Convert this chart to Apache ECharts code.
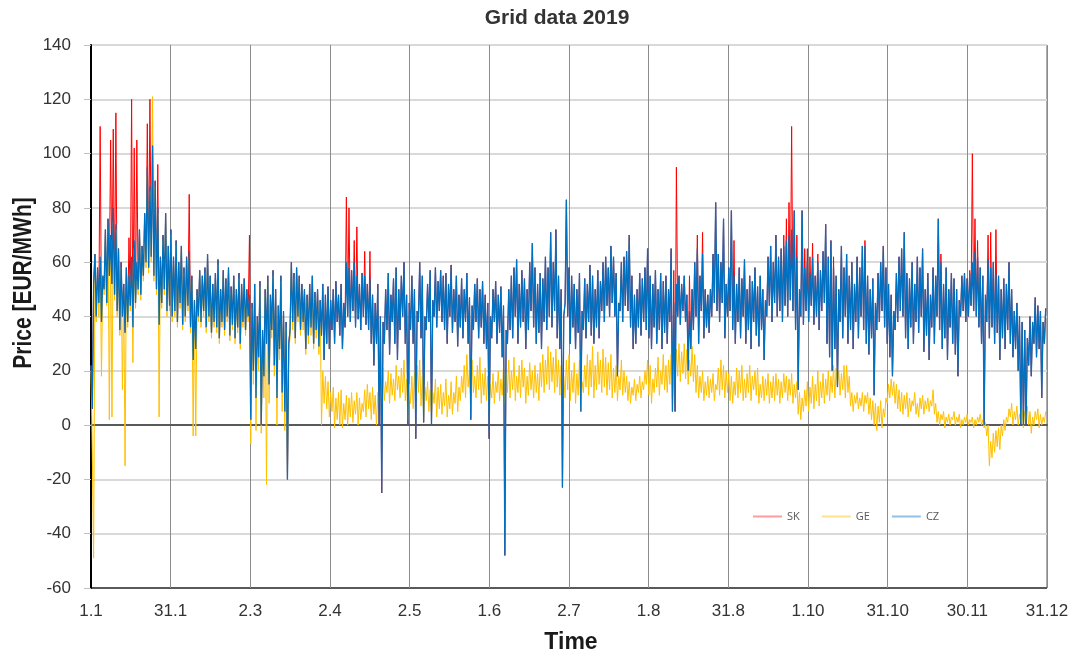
<!DOCTYPE html>
<html>
<head>
<meta charset="utf-8">
<script src="https://cdn.jsdelivr.net/npm/echarts@6/dist/echarts.min.js"></script>
<style>
  html, body { margin: 0; padding: 0; background: #ffffff; }
  #chart { width: 1074px; height: 656px; }
</style>
</head>
<body>
<div id="chart"></div>
<script>
// Hourly spot prices, sampled twice a day (00:00 and 12:00), EUR/MWh
const HOURS_PER_POINT = 12;

const xTickLabels = ['1.1', '31.1', '2.3', '2.4', '2.5', '1.6', '2.7', '1.8', '31.8', '1.10', '31.10', '30.11', '31.12'];
const seriesNames = ['SK', 'GE', 'CZ'];

// Slovakia
const sk = [
  22,6, 52,63, 40,58, 45,110, 38,55, 50,72, 45,76, 55,105, 52,109, 48,115,
  42,65, 35,60, 40,52, 34,58, 38,69, 44,120, 36,102, 45,105, 50,72, 48,66,
  55,78, 60,111, 58,120, 62,103, 55,90, 50,96, 37,62, 45,70, 50,78, 42,66,
  44,72, 40,62, 42,68, 38,60, 45,66, 37,58, 40,62, 44,85, 36,55, 24,46,
  28,50, 40,57, 38,55, 42,58, 36,63, 40,55, 34,52, 38,56, 36,61, 32,50,
  38,57, 35,54, 40,58, 33,51, 37,55, 32,50, 36,56, 30,52, 38,54, 35,50,
  40,70, 2,45, 20,52, 10,40, 25,53, 0,35, 18,50, 30,55, 15,48, 35,57,
  22,50, 10,44, 28,55, 12,42, 5,38, -20,30, 35,60, 38,56, 32,58, 40,55,
  35,52, 38,50, 28,48, 33,52, 36,55, 30,49, 35,50, 29,46, 33,52, 24,48,
  30,51, 28,46, 35,50, 30,53, 38,48, 33,52, 28,45, 36,84, 40,80, 38,57,
  42,68, 36,73, 39,52, 35,56, 40,64, 37,52, 35,64, 30,48, 22,45, 30,52,
  0,40, -25,38, 30,50, 35,56, 26,48, 38,54, 30,58, 24,50, 35,55, 40,60,
  30,48, 0,45, 35,55, 30,50, -5,42, 38,60, 32,55, 1,40, 35,52, 38,57,
  0,46, 40,58, 36,53, 42,57, 38,55, 35,56, 30,52, 40,59, 34,50, 38,55,
  29,48, 36,54, 32,50, 38,56, 30,47, 2,44, 35,52, 38,54, 32,50, 36,53,
  30,48, 28,45, -5,40, 32,50, 38,53, 30,48, 34,51, 25,44, -48,35, 30,50,
  35,55, 32,58, 40,61, 30,52, 36,57, 38,54, 28,50, 35,60, 42,67, 36,58,
  30,52, 34,56, 28,54, 38,62, 35,58, 40,71, 36,60, 42,72, 32,55, 28,50,
  -23,40, 45,83, 40,58, 30,55, 36,52, 28,50, 34,56, 5,42, 35,54, 32,52,
  38,59, 33,55, 30,50, 36,57, 32,53, 42,60, 38,62, 44,58, 40,66, 45,62,
  40,56, 18,45, 42,60, 38,62, 44,64, 42,70, 36,55, 28,48, 30,50, 36,56,
  33,54, 38,58, 35,65, 32,55, 28,52, 36,57, 30,50, 35,56, 28,53, 34,55,
  30,50, 38,65, 5,57, 5,95, 40,55, 37,52, 42,55, 38,48, 20,55, 28,50,
  35,60, 40,70, 30,55, 42,71, 32,50, 36,48, 34,50, 40,63, 45,82, 42,63,
  38,60, 45,76, 32,52, 40,58, 42,79, 35,68, 30,52, 38,58, 32,54, 40,61,
  30,50, 35,55, 28,53, 38,58, 33,51, 29,55, 35,50, 24,46, 40,62, 44,66,
  38,60, 45,70, 40,62, 42,65, 38,70, 44,76, 40,82, 46,110, 42,79, 35,70,
  13,50, 40,79, 37,65, 42,65, 38,62, 44,67, 37,55, 40,63, 35,57, 42,64,
  45,74, 30,62, 25,68, 20,62, 28,55, 14,50, 38,66, 32,58, 40,63, 30,55,
  35,60, 28,52, 38,62, 32,58, 40,66, 35,68, 30,55, 26,50, 32,54, 11,45,
  35,56, 38,60, 42,66, 36,58, 30,52, 25,48, 18,42, 35,56, 38,62, 42,65,
  40,71, 32,56, 28,54, 36,60, 30,52, 38,62, 34,58, 40,65, 27,50, 33,56,
  24,48, 36,58, 30,55, 40,76, 35,63, 28,52, 32,58, 24,50, 36,56, 30,54,
  26,50, 18,46, 40,55, 42,56, 38,54, 40,57, 44,100, 42,76, 40,68, 36,58,
  30,55, 0,48, 38,70, 32,71, 36,60, 30,72, 34,55, 24,50, 32,54, 28,52,
  35,60, 30,50, 25,42, 28,45, 20,40, 0,38, 0,35, 0,32, 22,40, 18,38,
  30,47, 25,44, 28,42, 10,38, 30,43
];

// Germany
const ge = [
  20,-10, -49,55, 38,56, 40,60, 18,55, 48,70, 44,72, 2,68, 3,75, 46,72,
  40,62, 33,58, 13,50, -15,56, 36,52, 42,60, 23,65, 43,58, 48,70, 46,64,
  53,76, 58,92, 56,86, 60,121, 53,88, 48,78, 3,60, 43,68, 48,76, 40,64,
  42,70, 38,60, 40,66, 36,58, 43,64, 35,56, 38,60, 42,62, 34,53, -4,44,
  -4,48, 38,55, 36,53, 40,56, 34,61, 38,53, 32,50, 36,54, 34,59, 30,48,
  36,55, 33,52, 38,56, 31,49, 35,53, 30,48, 34,54, 28,50, 36,52, 33,48,
  38,46, -7,43, 15,50, -2,38, 20,51, -3,33, 10,48, -22,53, 8,46, 32,55,
  18,48, 0,42, 24,53, 5,40, -2,36, -18,28, 32,58, 35,54, 30,56, 38,53,
  33,50, 35,48, 26,46, 30,50, 33,52, 28,47, 32,48, 26,44, 0,20, 8,18,
  6,16, 3,12, 5,14, -1,10, 2,12, 0,13, -1,8, 2,11, 0,10, 3,12,
  1,9, 4,12, 0,10, 2,8, 5,13, 3,15, 6,12, 2,14, 4,11, 0,12,
  8,18, 10,21, 9,16, 12,20, 8,19, 11,17, 9,22, 13,18, 10,21, 12,24,
  9,17, 2,15, 8,18, 6,20, 10,22, 12,24, 7,18, 3,14, 9,16, 5,13,
  4,12, 8,17, 3,14, 6,15, 4,12, 7,17, 3,11, 6,16, 4,12, 8,18,
  5,14, 9,18, 12,22, 10,26, 14,20, 9,24, 12,18, 10,22, 13,25, 8,19,
  11,21, 9,18, 6,15, 10,19, 8,16, 12,20, 9,17, 11,22, 8,19, 12,24,
  10,20, 13,25, 9,18, 12,22, 10,24, 14,21, 8,18, 11,23, 13,20, 10,22,
  12,19, 9,23, 14,26, 12,24, 15,29, 13,27, 16,25, 12,28, 14,24, 11,22,
  5,18, 10,24, 13,26, 9,20, 12,23, 8,19, 11,24, 5,16, 12,22, 14,26,
  11,24, 14,29, 10,22, 13,27, 15,24, 12,28, 14,25, 11,23, 13,26, 10,21,
  12,22, 9,18, 13,24, 11,20, 12,18, 9,16, 8,14, 11,17, 9,15, 12,18,
  10,16, 13,20, 15,24, 11,22, 8,17, 12,21, 14,25, 11,20, 15,26, 13,22,
  12,24, 15,26, 10,20, 16,28, 18,30, 16,27, 19,30, 17,28, 15,24, 18,29,
  16,26, 12,22, 10,18, 12,20, 9,16, 11,18, 10,17, 12,19, 9,15, 13,21,
  11,24, 13,22, 10,20, 12,19, 9,18, 8,16, 11,21, 10,20, 12,22, 9,17,
  10,19, 12,22, 9,18, 13,20, 11,21, 8,15, 10,18, 9,17, 11,19, 8,16,
  10,18, 9,19, 11,17, 8,16, 10,19, 12,18, 9,17, 11,19, 8,15, 10,16,
  4,12, 2,10, 5,13, 7,16, 5,14, 8,18, 6,15, 9,20, 7,16, 10,19,
  8,17, 11,20, 9,18, 12,22, 10,21, 14,20, 11,19, 13,22, 10,22, 12,18,
  7,12, 5,11, 8,12, 6,10, 7,12, 5,11, 8,12, 4,10, 2,9, 0,8,
  -2,7, 1,9, -1,6, 3,10, 8,15, 10,17, 11,16, 8,15, 6,13, 5,12,
  4,11, 6,12, 3,10, 5,9, 7,12, 4,8, 3,10, 6,11, 4,9, 6,10,
  5,9, 7,13, 4,8, 1,5, 0,4, 2,5, -1,3, 1,4, 0,3, 2,5,
  0,3, 1,4, -1,2, 0,3, 1,4, 0,2, 1,3, -1,2, 0,3, 1,4,
  0,2, -1,1, -4,0, -15,-6, -12,-3, -10,-2, -8,-1, -9,0, -4,2, -2,3,
  1,6, 3,8, 0,5, 2,7, 0,4, 1,6, -1,5, 2,7, 0,5, -3,3,
  0,5, 2,6, -1,4, 0,3, 1,5
];

// Czech Republic
const cz = [
  22,6, 52,63, 40,58, 45,62, 38,55, 50,72, 45,76, 55,70, 52,80, 48,74,
  42,65, 35,60, 40,52, 34,58, 38,55, 44,62, 36,68, 45,60, 50,72, 48,66,
  55,78, 60,95, 58,88, 62,103, 55,90, 50,80, 37,62, 45,70, 50,78, 42,66,
  44,72, 40,62, 42,68, 38,60, 45,66, 37,58, 40,62, 44,64, 36,55, 24,46,
  28,50, 40,57, 38,55, 42,58, 36,63, 40,55, 34,52, 38,56, 36,61, 32,50,
  38,57, 35,54, 40,58, 33,51, 37,55, 32,50, 36,56, 30,52, 38,54, 35,50,
  40,48, 2,45, 20,52, 10,40, 25,53, 0,35, 18,50, 30,55, 15,48, 35,57,
  22,50, 10,44, 28,55, 12,42, 5,38, -20,30, 35,60, 38,56, 32,58, 40,55,
  35,52, 38,50, 28,48, 33,52, 36,55, 30,49, 35,50, 29,46, 33,52, 24,48,
  30,51, 28,46, 35,50, 30,53, 38,48, 33,52, 28,45, 36,60, 40,58, 38,57,
  42,60, 36,55, 39,52, 35,56, 40,55, 37,52, 35,54, 30,48, 22,45, 30,52,
  0,40, -25,38, 30,50, 35,56, 26,48, 38,54, 30,58, 24,50, 35,55, 40,60,
  30,48, 0,45, 35,55, 30,50, -5,42, 38,60, 32,55, 1,40, 35,52, 38,57,
  0,46, 40,58, 36,53, 42,57, 38,55, 35,56, 30,52, 40,59, 34,50, 38,55,
  29,48, 36,54, 32,50, 38,56, 30,47, 2,44, 35,52, 38,54, 32,50, 36,53,
  30,48, 28,45, -5,40, 32,50, 38,53, 30,48, 34,51, 25,44, -48,35, 30,50,
  35,55, 32,58, 40,61, 30,52, 36,57, 38,54, 28,50, 35,60, 42,67, 36,58,
  30,52, 34,56, 28,54, 38,62, 35,58, 40,71, 36,60, 42,72, 32,55, 28,50,
  -23,40, 45,83, 40,58, 30,55, 36,52, 28,50, 34,56, 5,42, 35,54, 32,52,
  38,59, 33,55, 30,50, 36,57, 32,53, 42,60, 38,62, 44,58, 40,66, 45,62,
  40,56, 18,45, 42,60, 38,62, 44,64, 42,70, 36,55, 28,48, 30,50, 36,56,
  33,54, 38,58, 35,65, 32,55, 28,52, 36,57, 30,50, 35,56, 28,53, 34,55,
  30,50, 38,65, 5,45, 5,52, 40,55, 37,52, 42,55, 38,48, 20,42, 28,50,
  35,60, 40,65, 30,55, 42,63, 32,50, 36,48, 34,50, 40,63, 45,82, 42,63,
  38,60, 45,76, 32,52, 40,58, 42,79, 35,55, 30,52, 38,58, 32,54, 40,61,
  30,50, 35,55, 28,53, 38,58, 33,51, 29,55, 35,50, 24,46, 40,62, 44,66,
  38,60, 45,70, 40,62, 42,65, 38,66, 44,68, 40,70, 46,72, 42,79, 35,62,
  13,50, 40,79, 37,58, 42,60, 38,56, 44,62, 37,55, 40,60, 35,57, 42,64,
  45,74, 30,62, 25,68, 20,58, 28,55, 14,50, 38,66, 32,58, 40,63, 30,55,
  35,60, 28,52, 38,62, 32,58, 40,66, 35,66, 30,55, 26,50, 32,54, 11,45,
  35,56, 38,60, 42,66, 36,58, 30,52, 25,48, 18,42, 35,56, 38,62, 42,65,
  40,71, 32,56, 28,54, 36,60, 30,52, 38,62, 34,58, 40,65, 27,50, 33,56,
  24,48, 36,58, 30,55, 40,76, 35,60, 28,52, 32,58, 24,50, 36,56, 30,54,
  26,50, 18,46, 40,55, 42,56, 38,54, 40,56, 44,60, 42,64, 40,62, 36,58,
  30,55, 0,48, 38,61, 32,58, 36,60, 30,56, 34,55, 24,50, 32,54, 28,52,
  35,60, 30,50, 25,42, 28,45, 20,40, 0,38, 0,35, 0,32, 22,40, 18,38,
  30,47, 25,44, 28,42, 10,38, 30,43
];

const seriesColors = ['#ff0000', '#ffc000', '#0070c0'];
const legendColors = ['#ff9b9b', '#ffe08c', '#92c0e6'];
const lineWidths = [1, 1, 1.3];
const HOURS_PER_TICK = 730;

function toPoints(values) {
  return values.map((v, i) => [i * HOURS_PER_POINT, v]);
}

const FONT = '"Liberation Sans", Arial, Helvetica, sans-serif';
const chart = echarts.init(document.getElementById('chart'), null, { renderer: 'canvas' });

const ySplitColors = ['#595959', '#d9d9d9', '#d9d9d9', '#7f7f7f', '#d9d9d9', '#d9d9d9',
                      '#d9d9d9', '#d9d9d9', '#d9d9d9', '#d9d9d9', '#d9d9d9'];

chart.setOption({
  animation: false,
  backgroundColor: '#ffffff',
  grid: {
    left: 91, right: 27, top: 45, bottom: 68,
    show: true, borderColor: '#595959', borderWidth: 1
  },
  xAxis: {
    type: 'value',
    min: 0,
    max: 8760,
    interval: HOURS_PER_TICK,
    axisLine: { show: true, lineStyle: { color: '#595959', width: 2 } },
    axisTick: { show: false },
    axisLabel: {
      margin: 15,
      fontSize: 17,
      fontFamily: FONT,
      color: '#333333',
      formatter: (v) => xTickLabels[Math.round(v / HOURS_PER_TICK)] || ''
    },
    splitLine: { show: true, lineStyle: { color: '#8c8c8c', width: 1 } }
  },
  yAxis: {
    type: 'value',
    min: -60,
    max: 140,
    interval: 20,
    axisLine: { show: true, lineStyle: { color: '#000000', width: 2 } },
    axisTick: { show: true, length: 7, lineStyle: { color: '#bfbfbf', width: 1 } },
    axisLabel: { margin: 20, fontSize: 17, fontFamily: FONT, color: '#333333' },
    splitLine: { show: true, lineStyle: { color: ySplitColors, width: 2 } }
  },
  legend: {
    left: 748,
    top: 506,
    icon: 'rect',
    itemWidth: 29,
    itemHeight: 2,
    itemGap: 22,
    textStyle: { fontSize: 11, fontFamily: '"Open Sans", sans-serif', color: '#595959' },
    data: seriesNames.map((n, i) => ({ name: n, itemStyle: { color: legendColors[i] } }))
  },
  graphic: [
    {
      type: 'text', x: 557, y: 18,
      style: { text: 'Grid data 2019', font: 'bold 21px ' + FONT, fill: '#333333',
               textAlign: 'center', textVerticalAlign: 'middle' }
    },
    {
      type: 'text', x: 24, y: 283, rotation: Math.PI / 2, scaleY: 1.25,
      style: { text: 'Price [EUR/MWh]', font: 'bold 21px ' + FONT, fill: '#1a1a1a',
               textAlign: 'center', textVerticalAlign: 'middle' }
    },
    {
      type: 'text', x: 571, y: 643,
      style: { text: 'Time', font: 'bold 23px ' + FONT, fill: '#1a1a1a',
               textAlign: 'center', textVerticalAlign: 'middle' }
    }
  ],
  series: [sk, ge, cz].map((values, i) => ({
    name: seriesNames[i],
    type: 'line',
    data: toPoints(values),
    showSymbol: false,
    symbol: 'none',
    color: seriesColors[i],
    lineStyle: { color: seriesColors[i], width: lineWidths[i] },
    emphasis: { disabled: true }
  }))
});
</script>
</body>
</html>
